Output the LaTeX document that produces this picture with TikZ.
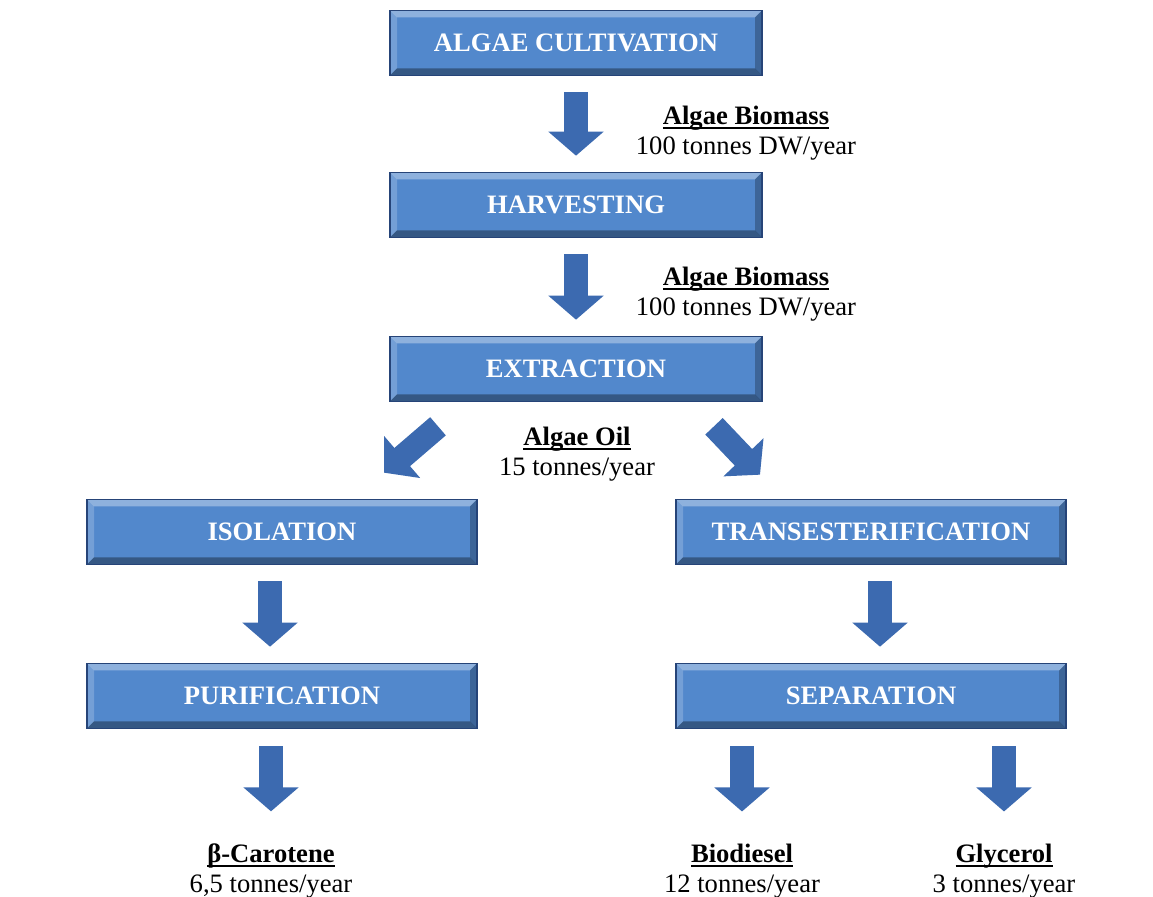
\documentclass[tikz,border=0pt]{standalone}
\usepackage{fontspec}
\setmainfont{Liberation Serif}
\usetikzlibrary{arrows.meta,positioning}
\definecolor{boxblue}{RGB}{82,136,204}
\definecolor{edgeblue}{RGB}{38,68,120}
\definecolor{arrowblue}{RGB}{60,106,176}
\newcommand\ulbold[1]{\setbox0\hbox{\textbf{#1}}\leavevmode\rlap{\vrule height -1.3pt depth 2.1pt width \wd0}\box0}
\begin{document}
\begin{tikzpicture}[x=0.5pt,y=-0.5pt,
    stage/.style={draw=edgeblue, line width=0.8pt, fill=boxblue, text=white, inner sep=0pt,
      font=\bfseries\fontsize{13.3}{16}\selectfont, minimum height=32.5pt,
      path picture={
        \coordinate (pnw) at (path picture bounding box.north west);
        \coordinate (pne) at (path picture bounding box.north east);
        \coordinate (psw) at (path picture bounding box.south west);
        \coordinate (pse) at (path picture bounding box.south east);
        \fill[white,opacity=.35] (pnw) -- (pne) -- ([shift={(-3.5pt,-3.5pt)}]pne) -- ([shift={(3.5pt,-3.5pt)}]pnw) -- cycle;
        \fill[white,opacity=.2] (pnw) -- (psw) -- ([shift={(3.5pt,3.5pt)}]psw) -- ([shift={(3.5pt,-3.5pt)}]pnw) -- cycle;
        \fill[black,opacity=.35] (psw) -- (pse) -- ([shift={(-3.5pt,3.5pt)}]pse) -- ([shift={(3.5pt,3.5pt)}]psw) -- cycle;
        \fill[black,opacity=.25] (pne) -- (pse) -- ([shift={(-3.5pt,3.5pt)}]pse) -- ([shift={(-3.5pt,-3.5pt)}]pne) -- cycle;
      }},
    upper/.style={stage, minimum width=186pt},
    lower/.style={stage, minimum width=195pt},
    flow/.style={line width=12pt, draw=arrowblue, -{Triangle[width=27pt,length=12pt]}, shorten <=8pt, shorten >=8pt},
    yield/.style={align=center, inner sep=2pt, font=\fontsize{13.3}{15}\selectfont}]
  \useasboundingbox (0,0) rectangle (1153,897);

  \node[upper] (cult) at (576,43) {ALGAE CULTIVATION};
  \node[upper] (harv) at (576,205) {HARVESTING};
  \node[upper] (extr) at (576,369) {EXTRACTION};
  \node[lower] (iso) at (282,532) {ISOLATION};
  \node[lower] (trans) at (871,532) {TRANSESTERIFICATION};
  \node[lower] (pur) at (282,696) {PURIFICATION};
  \node[lower] (sep) at (871,696) {SEPARATION};

  \node[yield] (bm1) at (746,133) {\ulbold{Algae Biomass}\\100 tonnes DW/year};
  \node[yield] (bm2) at (746,294) {\ulbold{Algae Biomass}\\100 tonnes DW/year};
  \node[yield] (oil) at (577,454) {\ulbold{Algae Oil}\\15 tonnes/year};
  \node[yield] (caro) at (271,871) {\ulbold{β-Carotene}\\6,5 tonnes/year};
  \node[yield] (bio) at (742,871) {\ulbold{Biodiesel}\\12 tonnes/year};
  \node[yield] (gly) at (1004,871) {\ulbold{Glycerol}\\3 tonnes/year};

  \draw[flow] (cult) -- (harv);
  \draw[flow] (harv) -- (extr);
  \draw[flow, shorten <=0pt, shorten >=0pt] ([shift={(-138,24)}]extr.south) -- ([shift={(102,-26)}]iso.north);
  \draw[flow, shorten <=0pt, shorten >=0pt] ([shift={(138,24)}]extr.south) -- ([shift={(-111,-24)}]trans.north);
  \draw[flow] ([xshift=-6pt]iso.south) -- ([xshift=-6pt]pur.north);
  \draw[flow] ([xshift=4.5pt]trans.south) -- ([xshift=4.5pt]sep.north);
  \draw[flow, shorten <=8.5pt, shorten >=14pt] (pur.south -| caro.north) -- (caro.north);
  \draw[flow, shorten <=8.5pt, shorten >=14pt] (sep.south -| bio.north) -- (bio.north);
  \draw[flow, shorten <=8.5pt, shorten >=14pt] (sep.south -| gly.north) -- (gly.north);
\end{tikzpicture}
\end{document}
